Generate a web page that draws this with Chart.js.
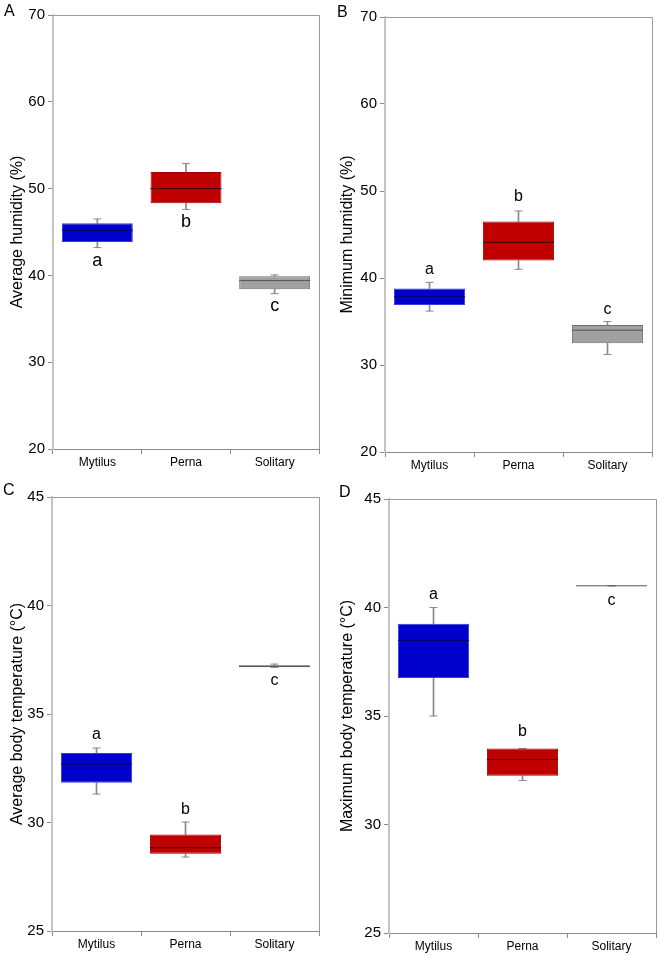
<!DOCTYPE html>
<html><head><meta charset="utf-8">
<script src="https://cdn.jsdelivr.net/npm/chart.js@4.4.1/dist/chart.umd.min.js"></script>
<style>
html,body{margin:0;padding:0;background:#fff;}
#wrap{position:relative;width:660px;height:956px;background:#fff;}
.p{position:absolute;width:330px;height:478px;}
canvas{display:block;}
</style></head><body>
<div id="wrap">
<div class="p" style="left:0;top:0"><canvas id="cA" width="330" height="478"></canvas></div>
<div class="p" style="left:330px;top:0"><canvas id="cB" width="330" height="478"></canvas></div>
<div class="p" style="left:0;top:478px"><canvas id="cC" width="330" height="478"></canvas></div>
<div class="p" style="left:330px;top:478px"><canvas id="cD" width="330" height="478"></canvas></div>
</div>
<script>
// ---------- data ----------
const categories = ['Mytilus', 'Perna', 'Solitary'];

// Panel A: Average humidity (%)
const aQ1 = [43.85, 48.3, 38.4];
const aQ3 = [46.0, 51.9, 39.9];
const aMedian = [45.2, 50.0, 39.4];
const aMin = [43.2, 47.6, 37.9];
const aMax = [46.5, 52.9, 40.05];
const aLetters = ['a', 'b', 'c'];
const aLetterY = [41.7, 46.1, 36.5];
const aTicks = [20, 30, 40, 50, 60, 70];

// Panel B: Minimum humidity (%)
const bQ1 = [36.9, 42.0, 32.5];
const bQ3 = [38.8, 46.5, 34.6];
const bMedian = [37.85, 44.1, 34.0];
const bMin = [36.2, 41.0, 31.2];
const bMax = [39.5, 47.7, 35.0];
const bLetters = ['a', 'b', 'c'];
const bLetterY = [41.0, 49.3, 36.4];
const bTicks = [20, 30, 40, 50, 60, 70];

// Panel C: Average body temperature (°C)
const cQ1 = [31.83, 28.56, 37.15];
const cQ3 = [33.2, 29.45, 37.25];
const cMedian = [32.68, 28.84, 37.2];
const cMin = [31.31, 28.41, 37.15];
const cMax = [33.43, 30.02, 37.3];
const cLetters = ['a', 'b', 'c'];
const cLetterY = [34.06, 30.6, 36.55];
const cTicks = [25, 30, 35, 40, 45];

// Panel D: Maximum body temperature (°C)
const dQ1 = [36.75, 32.25, 41.0];
const dQ3 = [39.25, 33.5, 41.0];
const dMedian = [38.48, 33.0, 41.0];
const dMin = [35.0, 32.03, 41.0];
const dMax = [40.0, 33.5, 41.0];
const dLetters = ['a', 'b', 'c'];
const dLetterY = [40.6, 34.3, 40.3];
const dTicks = [25, 30, 35, 40, 45];

// ---------- styles ----------
Chart.defaults.font.family = "'Liberation Sans', Arial, sans-serif";
Chart.defaults.color = '#000';
const boxFill = ['#0000CC', '#C00000', '#A0A0A0'];
const boxEdge = ['#3b3bd6', '#a30000', '#6f6f6f'];
const medianColor = ['#000060', '#3a0000', '#555555'];
const whiskerColor = '#8a8a8a';

const framePlugin = {
  id: 'frame',
  afterDraw(chart, args, opts) {
    const {ctx, chartArea: a} = chart;
    ctx.save();
    ctx.strokeStyle = opts.color || '#999';
    ctx.lineWidth = 1;
    ctx.beginPath();
    ctx.moveTo(a.left, a.top + 0.5); ctx.lineTo(a.right + 0.5, a.top + 0.5);
    ctx.lineTo(a.right + 0.5, a.bottom);
    ctx.stroke();
    // panel letter
    ctx.fillStyle = '#000';
    ctx.font = "16px 'Liberation Sans', Arial, sans-serif";
    ctx.textAlign = 'left';
    ctx.textBaseline = 'middle';
    ctx.fillText(opts.panel, opts.px, opts.py);
    ctx.restore();
  }
};
const letterPlugin = {
  id: 'sigLetters',
  afterDatasetsDraw(chart, args, opts) {
    const {ctx} = chart;
    const xs = chart.scales.x, ys = chart.scales.y;
    ctx.save();
    ctx.fillStyle = '#000';
    ctx.font = opts.size + "px 'Liberation Sans', Arial, sans-serif";
    ctx.textAlign = 'center';
    ctx.textBaseline = 'middle';
    opts.letters.forEach((t, i) => {
      ctx.fillText(t, xs.getPixelForValue(i), ys.getPixelForValue(opts.ys[i]));
    });
    ctx.restore();
  }
};

function makePanel(id, p) {
  const datasets = [
    {type: 'line', data: p.median, showLine: false, pointStyle: 'line', pointRadius: 35.5,
     pointHoverRadius: 35.5, pointBorderColor: medianColor, pointBorderWidth: 1, order: 0},
    {type: 'bar', data: categories.map((_, i) => [p.q1[i], p.q3[i]]), backgroundColor: boxFill,
     borderColor: boxEdge, borderWidth: 1, borderSkipped: false, grouped: false,
     barPercentage: 0.8, categoryPercentage: 1, order: 1},
    {type: 'bar', data: categories.map((_, i) => [p.min[i], p.q1[i]]), backgroundColor: whiskerColor,
     barThickness: 1, grouped: false, order: 2},
    {type: 'bar', data: categories.map((_, i) => [p.q3[i], p.max[i]]), backgroundColor: whiskerColor,
     barThickness: 1, grouped: false, order: 2},
    {type: 'line', data: p.min, showLine: false, pointStyle: 'line', pointRadius: 4,
     pointBorderColor: whiskerColor, pointBorderWidth: 1, order: 3},
    {type: 'line', data: p.max, showLine: false, pointStyle: 'line', pointRadius: 4,
     pointBorderColor: whiskerColor, pointBorderWidth: 1, order: 3}
  ];
  return new Chart(document.getElementById(id), {
    type: 'bar',
    data: {labels: categories, datasets},
    options: {
      responsive: false, animation: false,
      layout: {autoPadding: false, padding: {top: p.top, right: p.right, left: 0, bottom: 0}},
      plugins: {
        legend: {display: false}, tooltip: {enabled: false},
        frame: {color: '#9a9a9a', panel: p.panel, px: p.px, py: p.py},
        sigLetters: {letters: p.letters, ys: p.letterY, size: p.letterSize}
      },
      scales: {
        x: {
          type: 'category', offset: true,
          grid: {offset: true, drawOnChartArea: false, tickLength: 5, color: '#8a8a8a', tickColor: '#8a8a8a'},
          border: {color: '#8a8a8a', width: 1},
          ticks: {font: {size: 12}, color: '#000', padding: 1},
          afterFit(s) { s.height = p.bottom; s.paddingLeft = 0; s.paddingRight = 0; }
        },
        y: {
          min: p.ticks[0], max: p.ticks[p.ticks.length - 1],
          afterBuildTicks(s) { s.ticks = p.ticks.map(v => ({value: v})); },
          grid: {drawOnChartArea: false, tickLength: 5, color: '#8a8a8a', tickColor: '#8a8a8a'},
          border: {color: '#c4c4c4', width: 2},
          ticks: {font: {size: 15}, color: '#000', padding: 3},
          title: {display: true, text: p.title, font: {size: 16}, color: '#000', padding: {top: 8, bottom: 0}},
          afterFit(s) { s.width = p.left; s.paddingTop = 0; s.paddingBottom = 0; }
        }
      }
    },
    plugins: [framePlugin, letterPlugin]
  });
}

makePanel('cA', {median: aMedian, q1: aQ1, q3: aQ3, min: aMin, max: aMax, letters: aLetters, letterY: aLetterY,
  ticks: aTicks, title: 'Average humidity (%)', panel: 'A', px: 4, py: 12, letterSize: 18,
  top: 15, right: 11, left: 53, bottom: 29});
makePanel('cB', {median: bMedian, q1: bQ1, q3: bQ3, min: bMin, max: bMax, letters: bLetters, letterY: bLetterY,
  ticks: bTicks, title: 'Minimum humidity (%)', panel: 'B', px: 7, py: 13, letterSize: 16,
  top: 17, right: 8, left: 55, bottom: 26});
makePanel('cC', {median: cMedian, q1: cQ1, q3: cQ3, min: cMin, max: cMax, letters: cLetters, letterY: cLetterY,
  ticks: cTicks, title: 'Average body temperature (°C)', panel: 'C', px: 3, py: 13, letterSize: 16,
  top: 19, right: 11, left: 52, bottom: 25});
makePanel('cD', {median: dMedian, q1: dQ1, q3: dQ3, min: dMin, max: dMax, letters: dLetters, letterY: dLetterY,
  ticks: dTicks, title: 'Maximum body temperature (°C)', panel: 'D', px: 9, py: 15, letterSize: 16,
  top: 21, right: 4, left: 59, bottom: 23});
</script>
</body></html>
